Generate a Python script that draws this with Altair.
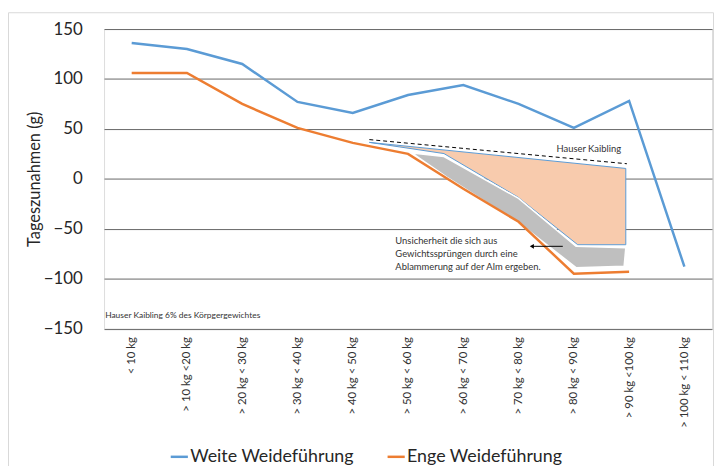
import altair as alt
import pandas as pd

cats = ["< 10 kg", "> 10 kg <20 kg", "> 20 kg < 30 kg", "> 30 kg < 40 kg", "> 40 kg < 50 kg",
        "> 50 kg < 60 kg", "> 60 kg < 70 kg", "> 70 kg < 80 kg", "> 80 kg < 90 kg",
        "> 90 kg <100 kg", "> 100 kg < 110 kg"]
weite = [136, 130, 115, 77, 66, 84, 94, 75, 51, 78, -88]
enge = [106, 106, 75, 51, 36, 25, -10, -43, -95, -93, None]

# annotation shapes (category-index units, value units)
peach_x = [4.30, 8.94, 8.94, 8.07, 6.99, 5.65, 4.30]
peach_y = [36.5, 10.4, -66, -66, -18.4, 25.3, 36.5]
gray_x = [5.03, 5.65, 7.00, 8.04, 8.94, 8.91, 8.04, 7.05, 5.70, 5.12, 5.03]
gray_y = [26, 22.3, -19.6, -67.6, -69, -87.5, -89, -46, 1.8, 24, 26]
dash_x = [4.30, 8.96]
dash_y = [39.3, 15.1]
arrow_x = [7.80, 7.24]
arrow_y = [-67.6, -67.6]
note_lines = ["Unsicherheit die sich aus", "Gewichtssprüngen durch eine", "Ablammerung auf der Alm ergeben."]
note_y = [-62.5, -75.5, -88.5]

FONT = "Lato"
W, H = 614, 302.5

rows = []
for i, c in enumerate(cats):
    rows.append({"idx": i, "val": weite[i], "series": "Weite Weideführung"})
    if enge[i] is not None:
        rows.append({"idx": i, "val": enge[i], "series": "Enge Weideführung"})
df = pd.DataFrame(rows)

label_expr = "[" + ",".join("'" + c + "'" for c in cats) + "][datum.value]"

xs = alt.Scale(domain=[-0.5, 10.5], nice=False, zero=False)
ys = alt.Scale(domain=[-150, 150], nice=False)

x_axis = alt.Axis(values=list(range(11)), labelExpr=label_expr, labelAngle=-90, labelFontSize=11.5,
                  labelPadding=8, ticks=False, domain=False, grid=False, title=None,
                  labelColor="#333333", labelFont=FONT)
y_axis = alt.Axis(values=[-150, -100, -50, 0, 50, 100, 150], labelFontSize=17, labelPadding=22,
                  ticks=False, domain=False, grid=True, gridColor="#666666", gridWidth=1,
                  labelColor="#262626", labelFont=FONT, title="Tageszunahmen (g)",
                  titleFontSize=16.5, titleFont=FONT, titleFontWeight="normal", titleColor="#262626",
                  titleX=-70, titleY=H / 2, titleAngle=-90, titleAlign="center", titleBaseline="middle")

border = alt.Chart(pd.DataFrame({"a": [0]})).mark_rect(
    fill="transparent", stroke="#d9d9d9", strokeWidth=1, clip=False
).encode(x=alt.value(-96.5), x2=alt.value(615.5), y=alt.value(-16.5), y2=alt.value(460))

peach = alt.Chart(pd.DataFrame({"x": peach_x, "y": peach_y, "o": range(len(peach_x))})).mark_line(
    filled=True, fill="#F8CBAD", stroke="#5B9BD5", strokeWidth=1
).encode(x=alt.X("x:Q", scale=xs, axis=x_axis), y=alt.Y("y:Q", scale=ys, axis=y_axis), order="o:Q")

gray = alt.Chart(pd.DataFrame({"x": gray_x, "y": gray_y, "o": range(len(gray_x))})).mark_line(
    filled=True, fill="#BFBFBF", stroke="white", strokeWidth=1.5
).encode(x=alt.X("x:Q", scale=xs), y=alt.Y("y:Q", scale=ys), order="o:Q")

dashed = alt.Chart(pd.DataFrame({"x": dash_x, "y": dash_y})).mark_line(
    color="black", strokeDash=[4, 3], strokeWidth=1
).encode(x=alt.X("x:Q", scale=xs), y=alt.Y("y:Q", scale=ys))

lines = alt.Chart(df).mark_line(strokeWidth=2.5).encode(
    x=alt.X("idx:Q", scale=xs),
    y=alt.Y("val:Q", scale=ys),
    color=alt.Color("series:N",
                    scale=alt.Scale(domain=["Weite Weideführung", "Enge Weideführung"],
                                    range=["#5B9BD5", "#ED7D31"]),
                    sort=["Weite Weideführung", "Enge Weideführung"],
                    legend=alt.Legend(orient="none", legendX=66, legendY=422, direction="horizontal",
                                      title=None, symbolType="stroke", symbolStrokeWidth=2.5,
                                      symbolSize=300, labelFontSize=18, labelFont=FONT,
                                      labelColor="#262626", labelOffset=1, columnPadding=28,
                                      labelLimit=300)),
)

arrow_df = pd.DataFrame({"x": arrow_x, "y": arrow_y})
arrow_line = alt.Chart(arrow_df).mark_line(color="black", strokeWidth=1).encode(
    x=alt.X("x:Q", scale=xs), y=alt.Y("y:Q", scale=ys))
arrow_head = alt.Chart(arrow_df.iloc[[1]]).mark_point(
    shape="triangle-left", filled=True, color="black", size=22, opacity=1
).encode(x=alt.X("x:Q", scale=xs), y=alt.Y("y:Q", scale=ys))

note = alt.Chart(pd.DataFrame({"t": note_lines, "y": note_y, "x": [4.77] * 3})).mark_text(
    align="left", baseline="middle", fontSize=9.5, font=FONT, color="#333333"
).encode(x=alt.X("x:Q", scale=xs), y=alt.Y("y:Q", scale=ys), text="t:N")

hk = alt.Chart(pd.DataFrame({"t": ["Hauser Kaibling"], "x": [8.27], "y": [30]})).mark_text(
    align="center", baseline="middle", fontSize=9.5, font=FONT, color="#333333"
).encode(x=alt.X("x:Q", scale=xs), y=alt.Y("y:Q", scale=ys), text="t:N")

hk6 = alt.Chart(pd.DataFrame({"t": ["Hauser Kaibling 6% des Körpgergewichtes"], "x": [-0.48], "y": [-136.5]})).mark_text(
    align="left", baseline="middle", fontSize=8.5, font=FONT, color="#333333"
).encode(x=alt.X("x:Q", scale=xs), y=alt.Y("y:Q", scale=ys), text="t:N")

chart = alt.layer(border, peach, gray, dashed, lines, arrow_line, arrow_head, note, hk, hk6).properties(
    width=W, height=H,
    autosize=alt.AutoSizeParams(type="none"),
    padding={"left": 97, "top": 19, "right": 2, "bottom": 136},
).configure_view(stroke=None).configure(background="white")

chart.save("out.html", embed_options={"renderer": "svg", "actions": False})
